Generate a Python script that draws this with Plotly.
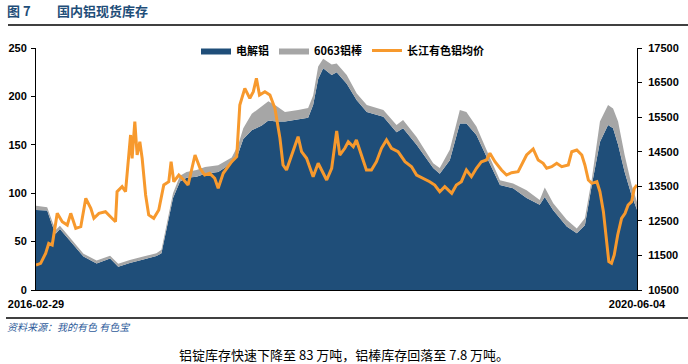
import plotly.graph_objects as go

# ---- Inventory data (万吨) ----
inv_dates = [
    "2016-02-29", "2016-03-29", "2016-04-11", "2016-04-20", "2016-05-01", "2016-06-09",
    "2016-07-01", "2016-08-04", "2016-09-08", "2016-09-29", "2016-10-29", "2016-12-03",
    "2017-01-06", "2017-01-19", "2017-02-01", "2017-02-18", "2017-03-08", "2017-03-25",
    "2017-04-20", "2017-05-12", "2017-06-15", "2017-07-20", "2017-08-06", "2017-08-19",
    "2017-09-10", "2017-10-06", "2017-10-23", "2017-11-13", "2017-12-05", "2018-01-08",
    "2018-02-03", "2018-02-16", "2018-03-01", "2018-03-14", "2018-04-05", "2018-04-18",
    "2018-05-14", "2018-06-09", "2018-07-05", "2018-08-17", "2018-09-20", "2018-10-07",
    "2018-11-11", "2018-12-24", "2019-01-10", "2019-02-05", "2019-03-03", "2019-03-20",
    "2019-04-15", "2019-05-11", "2019-06-15", "2019-07-19", "2019-08-23", "2019-09-26",
    "2019-10-09", "2019-10-31", "2019-12-05", "2019-12-31", "2020-01-21", "2020-02-08",
    "2020-02-29", "2020-03-21", "2020-04-03", "2020-04-16", "2020-05-03", "2020-05-21",
    "2020-06-04",
]
ingot = [
    82.6, 82, 67, 58, 63, 44,
    34.5, 27.5, 32.5, 24, 28, 31.5,
    35, 38, 62, 95, 112, 116,
    117, 120, 122, 131, 141, 156,
    165, 170, 175, 174, 174, 176,
    178, 191, 218, 229, 222, 225,
    213, 196, 184, 179, 163, 167,
    150, 126, 120, 134, 172, 172,
    160, 138, 108.5, 105, 95, 88,
    96, 82.5, 65.5, 58.5, 67, 108.5,
    153, 170.5, 167, 150, 122, 98,
    83,
]
bar6063 = [
    4.4, 3.5, 4, 4, 3.5, 3.5,
    3, 3, 3, 3, 3, 3,
    3, 3.5, 4, 5, 6, 6,
    7, 7, 7, 6, 9, 11,
    17, 20, 20, 16, 10, 10,
    10, 10, 13, 10, 11, 9,
    9, 7, 7, 7, 7.5, 8.5,
    8, 5, 6, 11, 14, 12,
    9, 7, 5, 5, 8, 5,
    10, 7, 7, 5, 7, 6.5,
    21, 20.5, 20.5, 24, 17.5, 10.5,
    7.8,
]

# ---- Changjiang average aluminium price (元/吨) ----
price_dates = [
    "2016-02-29", "2016-03-12", "2016-03-25", "2016-04-02", "2016-04-11", "2016-04-17",
    "2016-04-24", "2016-05-07", "2016-05-20", "2016-05-29", "2016-06-11", "2016-06-24",
    "2016-07-07", "2016-07-20", "2016-07-28", "2016-08-10", "2016-08-27", "2016-09-09",
    "2016-09-22", "2016-09-26", "2016-10-09", "2016-10-18", "2016-10-27", "2016-10-31",
    "2016-11-04", "2016-11-11", "2016-11-17", "2016-11-24", "2016-11-30", "2016-12-09",
    "2016-12-17", "2016-12-30", "2017-01-12", "2017-01-25", "2017-02-07", "2017-02-13",
    "2017-02-20", "2017-03-05", "2017-03-18", "2017-03-29", "2017-04-16", "2017-04-29",
    "2017-05-11", "2017-05-24", "2017-06-06", "2017-06-15", "2017-06-28", "2017-07-20",
    "2017-08-02", "2017-08-10", "2017-08-23", "2017-09-05", "2017-09-14", "2017-09-22",
    "2017-09-30", "2017-10-14", "2017-10-27", "2017-11-09", "2017-11-22", "2017-11-30",
    "2017-12-09", "2017-12-22", "2018-01-08", "2018-01-17", "2018-01-30", "2018-02-16",
    "2018-03-01", "2018-03-23", "2018-04-05", "2018-04-18", "2018-04-26", "2018-05-09",
    "2018-05-18", "2018-05-31", "2018-06-08", "2018-06-21", "2018-07-04", "2018-07-17",
    "2018-07-30", "2018-08-12", "2018-08-25", "2018-09-07", "2018-09-24", "2018-10-12",
    "2018-10-29", "2018-11-11", "2018-11-28", "2018-12-15", "2018-12-28", "2019-01-10",
    "2019-01-23", "2019-02-10", "2019-02-22", "2019-03-07", "2019-03-20", "2019-04-02",
    "2019-04-15", "2019-04-28", "2019-05-11", "2019-05-20", "2019-06-02", "2019-06-19",
    "2019-07-02", "2019-07-15", "2019-08-01", "2019-08-14", "2019-08-23", "2019-09-09",
    "2019-09-22", "2019-10-05", "2019-10-14", "2019-10-27", "2019-11-09", "2019-11-22",
    "2019-12-09", "2019-12-18", "2019-12-31", "2020-01-13", "2020-01-21", "2020-01-30",
    "2020-02-08", "2020-02-21", "2020-02-29", "2020-03-09", "2020-03-17", "2020-03-23",
    "2020-03-30", "2020-04-06", "2020-04-15", "2020-04-25", "2020-05-04", "2020-05-12",
    "2020-05-21", "2020-05-28", "2020-06-04",
]
price = [
    11223, 11272, 11561, 11851, 11802, 12187,
    12718, 12476, 12380, 12718, 12284, 12331,
    13152, 12863, 12574, 12718, 12765, 12620,
    12476, 13343, 13488, 13343, 14405, 14984,
    14310, 15368, 14405, 14790, 14310, 13248,
    12670, 12574, 12814, 13537, 13633, 14211,
    13633, 13826, 13682, 13537, 14405, 14020,
    13826, 13875, 13731, 13441, 13875, 14211,
    14356, 15851, 16334, 16045, 16236, 16624,
    16141, 16236, 16141, 15756, 14888, 14116,
    13971, 14405, 14935, 14500, 14310, 13778,
    14165, 13682, 14022, 15100, 14405, 14599,
    14790, 14645, 14839, 14405, 13971, 13971,
    14211, 14599, 14839, 14599, 14500, 14211,
    14066, 13826, 13731, 13633, 13537, 13343,
    13488, 13297, 13537, 13633, 13971, 13778,
    14022, 14211, 14260, 14454, 14211, 13971,
    13826, 13893, 13922, 14211, 14405, 14579,
    14260, 14165, 14022, 14066, 14165, 14066,
    14116, 14500, 14550, 14405, 14116, 13682,
    13586, 13633, 13343, 12765, 11995, 11319,
    11272, 11512, 12091, 12574, 12718, 12959,
    13054, 13441, 13537,
]

left_ticks = [0, 50, 100, 150, 200, 250]
right_ticks = [10500, 11500, 12500, 13500, 14500, 15500, 16500, 17500]
x_labels = ["2016-02-29", "2020-06-04"]

title_num = "图 7"
title_text = "国内铝现货库存"
source_text = "资料来源：我的有色 有色宝"
caption_text = "铝锭库存快速下降至 83 万吨，铝棒库存回落至 7.8 万吨。"

BLUE = "#1F4E79"
GREY = "#A6A6A6"
ORANGE = "#F7992D"
FONT = "Arial, 'Liberation Sans', 'Noto Sans CJK SC', sans-serif"
CJK = "'Noto Sans CJK SC', Arial, sans-serif"

W, H = 688, 364
L, R, T, B = 36, 637, 48, 290  # plot area, in window pixels


def px(x):
    return (x - L) / (R - L)


def py(y):
    return (B - y) / (B - T)


fig = go.Figure()
fig.add_trace(go.Scatter(
    x=inv_dates, y=ingot, name="电解铝", stackgroup="inv", mode="lines",
    line=dict(width=0, color=BLUE), fillcolor=BLUE,
))
fig.add_trace(go.Scatter(
    x=inv_dates, y=bar6063, name="6063铝棒", stackgroup="inv", mode="lines",
    line=dict(width=0, color=GREY), fillcolor=GREY,
))
fig.add_trace(go.Scatter(
    x=price_dates, y=price, name="长江有色铝均价", mode="lines", yaxis="y2",
    line=dict(width=3, color=ORANGE),
))

tickfont = dict(family=FONT, size=11, color="black", weight="bold")

fig.update_layout(
    width=W, height=H,
    margin=dict(l=L, r=W - R, t=T, b=H - B, autoexpand=False),
    paper_bgcolor="white", plot_bgcolor="white",
    font=dict(family=FONT, size=11, color="black"),
    showlegend=True,
    hovermode=False,
    legend=dict(
        orientation="h", x=px(196), y=py(36), xanchor="left", yanchor="top",
        bgcolor="rgba(0,0,0,0)", font=dict(family=CJK, size=11, color="black", weight="bold"),
        itemwidth=30, tracegroupgap=0, traceorder="normal",
    ),
    xaxis=dict(
        type="date", range=[inv_dates[0], inv_dates[-1]],
        showgrid=False, zeroline=False, showline=True, linecolor="black", linewidth=1,
        tickvals=x_labels, ticktext=x_labels, ticks="", ticklabelstandoff=4,
        ticklabeloverflow="allow", tickfont=tickfont,
    ),
    yaxis=dict(
        range=[0, 250], tickvals=left_ticks, showgrid=False, zeroline=False,
        showline=True, linecolor="black", linewidth=1, ticks="outside", ticklen=4,
        tickcolor="black", tickfont=tickfont, ticklabelstandoff=2,
    ),
    yaxis2=dict(
        range=[10500, 17500], tickvals=right_ticks,
        ticktext=[str(t) for t in right_ticks], overlaying="y", side="right",
        showgrid=False, zeroline=False, showline=True, linecolor="black", linewidth=1,
        ticks="outside", ticklen=4, tickcolor="black", tickfont=tickfont,
        ticklabelstandoff=4,
    ),
)

annotations = [
    dict(text=title_num, x=px(5), y=py(11), xanchor="left", yanchor="middle",
         font=dict(family=CJK, size=13, color=BLUE, weight="bold")),
    dict(text=title_text, x=px(55), y=py(11), xanchor="left", yanchor="middle",
         font=dict(family=CJK, size=13, color=BLUE, weight="bold")),
    dict(text=source_text, x=px(5), y=py(326), xanchor="left", yanchor="middle",
         font=dict(family=CJK, size=10, color="#2E5B9A", style="italic")),
    dict(text=caption_text, x=px(344), y=py(354), xanchor="center", yanchor="middle",
         font=dict(family=CJK, size=13, color="black")),
]
for a in annotations:
    a.update(xref="paper", yref="paper", showarrow=False)
fig.update_layout(annotations=annotations)

fig.add_shape(type="line", xref="paper", yref="paper", x0=px(8), x1=px(688),
              y0=py(25), y1=py(25), line=dict(color="black", width=1.5))
fig.add_shape(type="line", xref="paper", yref="paper", x0=px(6), x1=px(688),
              y0=py(318), y1=py(318), line=dict(color="black", width=1.5))

# Remove the default 8px page margin so the figure fills the window exactly.
fig.write_html(
    "out.html",
    config={"displayModeBar": False, "staticPlot": True},
    post_script="document.body.style.margin='0';",
)
